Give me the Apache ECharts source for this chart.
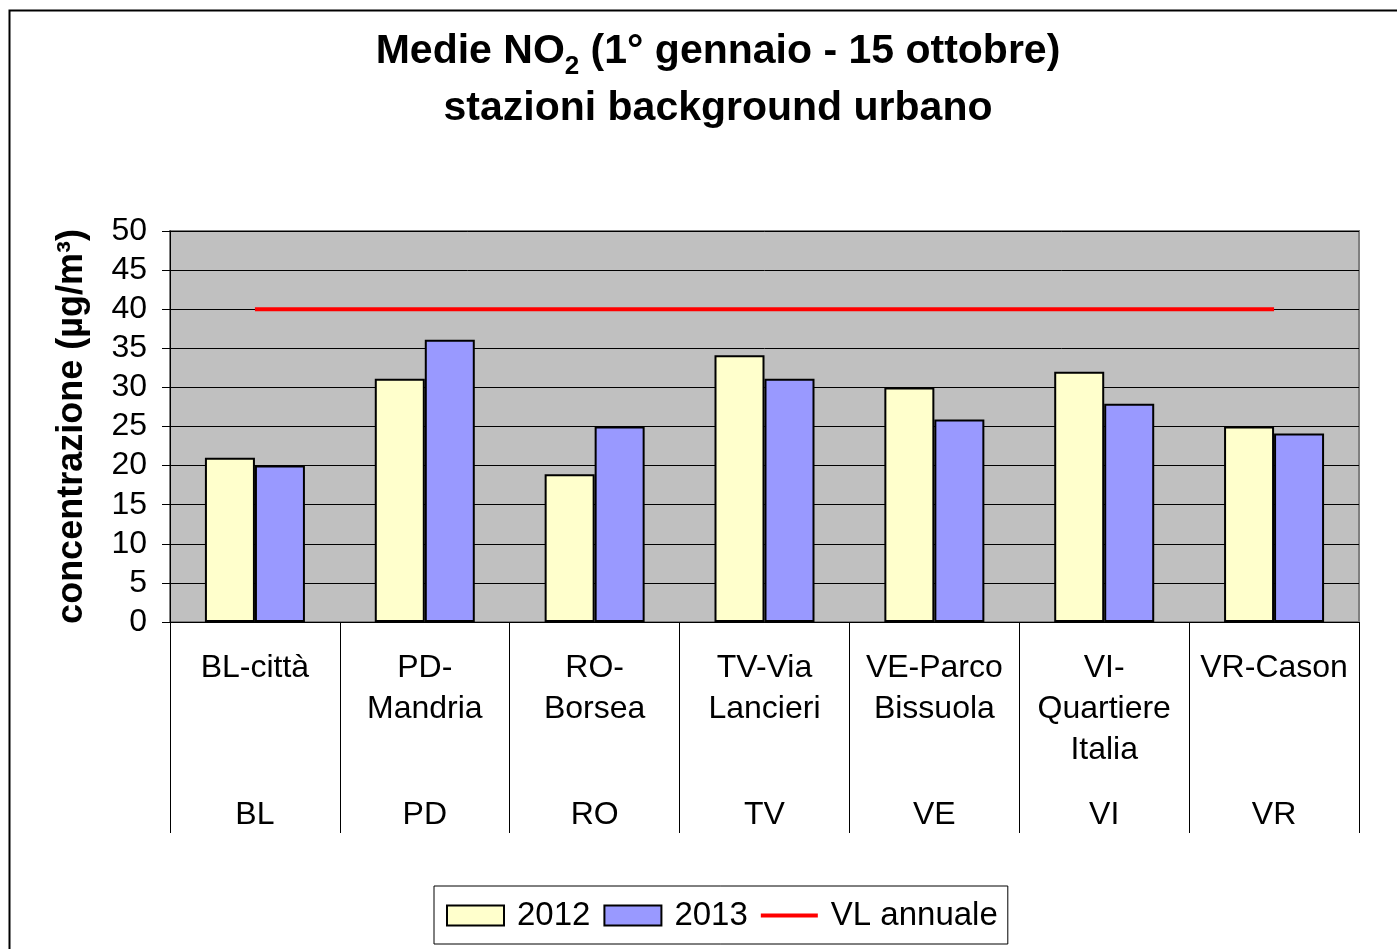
<!DOCTYPE html>
<html>
<head>
<meta charset="utf-8">
<script src="https://cdn.jsdelivr.net/npm/echarts@6/dist/echarts.min.js"></script>
<style>
html,body{margin:0;padding:0;background:#fff;}
#chart{width:1397px;height:949px;}
</style>
</head>
<body>
<div id="chart"></div>
<script>
var stations = ['BL-città', 'PD-\nMandria', 'RO-\nBorsea', 'TV-Via\nLancieri', 'VE-Parco\nBissuola', 'VI-\nQuartiere\nItalia', 'VR-Cason'];
var provinces = ['BL', 'PD', 'RO', 'TV', 'VE', 'VI', 'VR'];
var values2012 = [21, 31.1, 18.9, 34.1, 30, 32, 25];
var values2013 = [20, 36.1, 25, 31.1, 25.9, 27.9, 24.1];
var vlAnnuale = [40, 40, 40, 40, 40, 40, 40];
var yTicks = [0, 5, 10, 15, 20, 25, 30, 35, 40, 45, 50];

var FONT = "'Liberation Sans', Arial, sans-serif";
var chart = echarts.init(document.getElementById('chart'));
chart.setOption({
  animation: false,
  backgroundColor: '#ffffff',
  textStyle: { fontFamily: FONT, color: '#000' },
  graphic: [{
    type: 'rect',
    shape: { x: 9.5, y: 10.5, width: 1420, height: 960 },
    style: { fill: 'none', stroke: '#000', lineWidth: 2 },
    silent: true
  }],
  title: {
    text: 'Medie NO{sub|2} (1° gennaio - 15 ottobre)\nstazioni background urbano',
    left: 718,
    textAlign: 'center',
    top: 23,
    padding: 0,
    textStyle: {
      fontFamily: FONT,
      fontSize: 41,
      fontWeight: 'bold',
      color: '#000',
      lineHeight: 57,
      rich: {
        sub: {
          fontFamily: FONT,
          fontSize: 26,
          fontWeight: 'bold',
          color: '#000',
          lineHeight: 26,
          verticalAlign: 'bottom'
        }
      }
    }
  },
  legend: {
    left: 434,
    top: 886,
    orient: 'horizontal',
    padding: [13, 10, 12, 12],
    itemGap: 13,
    itemWidth: 57,
    itemHeight: 20,
    borderColor: '#000',
    borderWidth: 1,
    backgroundColor: '#fff',
    textStyle: { fontFamily: FONT, fontSize: 33, color: '#000', padding: [0, 0, 0, 8] },
    data: [
      { name: '2012', icon: 'rect' },
      { name: '2013', icon: 'rect' },
      { name: 'VL annuale', icon: 'path://M0,8 L60,8 L60,12 L0,12 Z', itemStyle: { color: '#ff0000', borderWidth: 0 } }
    ]
  },
  grid: {
    left: 170,
    top: 231,
    width: 1189,
    height: 391,
    show: true,
    backgroundColor: '#c0c0c0',
    borderColor: '#808080',
    borderWidth: 2,
    containLabel: false
  },
  xAxis: [{
    type: 'category',
    data: stations,
    boundaryGap: true,
    axisLine: { show: true, lineStyle: { color: '#000', width: 1 } },
    axisTick: { show: true, length: 211, alignWithLabel: false, lineStyle: { color: '#000', width: 1 } },
    axisLabel: {
      interval: 0,
      margin: 26,
      fontFamily: FONT,
      fontSize: 32,
      lineHeight: 41,
      color: '#000',
      align: 'center'
    },
    splitLine: { show: false }
  }, {
    type: 'category',
    data: provinces,
    position: 'bottom',
    boundaryGap: true,
    axisLine: { show: false },
    axisTick: { show: false },
    axisLabel: {
      interval: 0,
      margin: 175,
      fontFamily: FONT,
      fontSize: 32,
      lineHeight: 36,
      color: '#000'
    },
    splitLine: { show: false }
  }],
  yAxis: {
    type: 'value',
    min: yTicks[0],
    max: yTicks[yTicks.length - 1],
    interval: 5,
    name: 'concentrazione (µg/m³)',
    nameLocation: 'middle',
    nameGap: 80,
    nameRotate: 90,
    nameTextStyle: { fontFamily: FONT, fontSize: 36, fontWeight: 'bold', color: '#000' },
    axisLine: { show: true, lineStyle: { color: '#000', width: 1 } },
    axisTick: { show: true, inside: false, length: 8, lineStyle: { color: '#000', width: 1 } },
    axisLabel: { margin: 23, fontFamily: FONT, fontSize: 32, color: '#000' },
    splitLine: { show: true, lineStyle: { color: '#000', width: 1 } }
  },
  series: [{
    name: '2012',
    type: 'bar',
    data: values2012,
    barWidth: 50,
    barGap: '0%',
    itemStyle: { color: '#ffffcc', borderColor: '#000', borderWidth: 2 }
  }, {
    name: '2013',
    type: 'bar',
    data: values2013,
    barWidth: 50,
    barGap: '0%',
    itemStyle: { color: '#9999ff', borderColor: '#000', borderWidth: 2 }
  }, {
    name: 'VL annuale',
    type: 'line',
    data: vlAnnuale,
    symbol: 'none',
    showSymbol: false,
    lineStyle: { color: '#ff0000', width: 4 },
    itemStyle: { color: '#ff0000' },
    z: 5
  }]
});
</script>
</body>
</html>
